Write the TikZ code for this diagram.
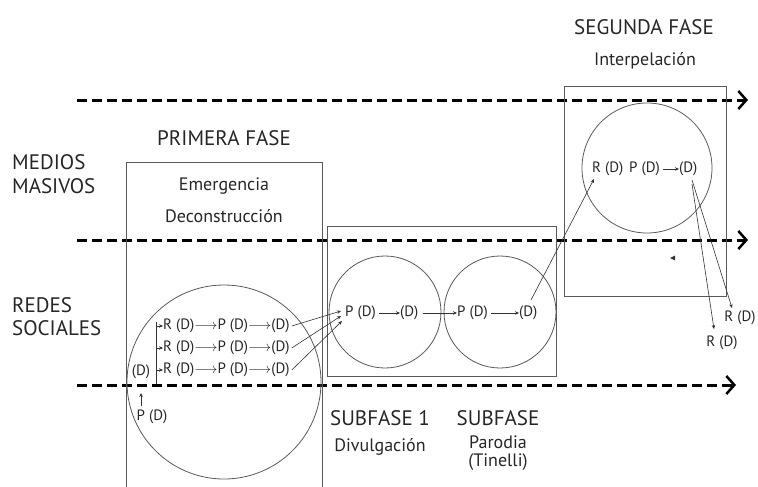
\documentclass[tikz,border=0pt]{standalone}
\usepackage{fontspec}
\setmainfont{PT Sans}
\usetikzlibrary{arrows.meta}
\begin{document}
\begin{tikzpicture}[x=1pt,y=-1pt,
  flow/.style={line width=3pt, dash pattern=on 10pt off 5pt,
    -{Straight Barb[length=8pt,width=18pt,line width=2.5pt]}},
  frame/.style={draw=black!65, line width=0.9pt},
  ring/.style={draw=black!65, line width=0.8pt},
  big/.style={font=\fontsize{21}{24}\selectfont, inner sep=0pt, text=black!85},
  mid/.style={font=\fontsize{18}{21}\selectfont, inner sep=0pt, text=black!85},
  sm/.style={font=\fontsize{15}{17}\selectfont, inner sep=0pt, text=black!85},
  conn/.style={line width=0.6pt, draw=black!80, -{Stealth[length=4pt,width=3.5pt]}}]
\useasboundingbox (0,0) rectangle (758,487);

% flow lines
\coordinate (f1s) at (77,100); \coordinate (f1e) at (748,100);
\coordinate (f2s) at (77,240); \coordinate (f2e) at (748,240);
\coordinate (f3s) at (77,385); \coordinate (f3e) at (736,385);
\draw[flow] (f1s) -- (f1e);
\draw[flow] (f2s) -- (f2e);
\draw[flow] (f3s) -- (f3e);

% frames
\draw[frame] (126,487) |- (322,162) -- (322,487);
\draw[frame] (327,226) rectangle (556,376);
\draw[frame] (564,86) rectangle (726,296);

% circles
\draw[ring] (224,382) circle (97);
\draw[ring] (385,312) circle (56);
\draw[ring] (500,312) circle (56);
\draw[ring] (647,168) circle (65);

% side labels
\node[big, anchor=west] (medios) at (12,162) {MEDIOS};
\node[big, anchor=west] (masivos) at (12,186) {MASIVOS};
\node[big, anchor=west] (redes) at (12,305) {REDES};
\node[big, anchor=west] (sociales) at (12,328) {SOCIALES};

% phase titles
\node[big] (primera) at (224,138) {PRIMERA FASE};
\node[mid] (emerg) at (224,186) {Emergencia};
\node[mid] (decon) at (224,216) {Deconstrucción};
\node[big] (segunda) at (644,27) {SEGUNDA FASE};
\node[mid] (interp) at (645,61) {Interpelación};
\node[big] (sub1) at (380,418) {SUBFASE 1};
\node[mid] (divul) at (380,447) {Divulgación};
\node[big] (sub2) at (498,418) {SUBFASE};
\node[mid] (parod) at (498,442) {Parodia};
\node[mid] (tinel) at (498,462) {(Tinelli)};

% first phase rows
\node[sm, anchor=west] (ra) at (163,326) {R (D)$\longrightarrow$P (D)$\longrightarrow$(D)};
\node[sm, anchor=west] (rb) at (163,348) {R (D)$\longrightarrow$P (D)$\longrightarrow$(D)};
\node[sm, anchor=west] (rc) at (163,370) {R (D)$\longrightarrow$P (D)$\longrightarrow$(D)};
\coordinate (vt) at (156,322);
\coordinate (vb) at (156,384);
\draw[line width=0.6pt, draw=black!80] (vt) -- (vb);
\draw[conn] (156,326) -- (ra.west);
\draw[conn] (156,348) -- (rb.west);
\draw[conn] (156,370) -- (rc.west);
\node[sm] (d0) at (141,372) {(D)};
\node[sm] (p0) at (152,417) {P (D)};
\draw[conn] (141,406) -- (141,393);

% subphase texts
\node[sm, anchor=west] (p1) at (345,313) {P (D)};
\node[sm, anchor=west] (d1) at (400,313) {(D)};
\node[sm, anchor=west] (p2) at (457,313) {P (D)};
\node[sm, anchor=west] (d2) at (519,313) {(D)};
\draw[conn] (p1.east) ++(3,0) -- (d1.west);
\draw[conn] (d1.east) ++(4,0) -- (p2.west);
\draw[conn] (p2.east) ++(3,0) -- (d2.west);

\draw[conn] (ra.east) ++(2,0) -- (341,311);
\draw[conn] (rb.east) ++(2,0) -- (341,316);
\draw[conn] (rc.east) ++(2,0) -- (342,321);

% second phase texts
\node[sm, anchor=west] (r4) at (592,169) {R (D)};
\node[sm, anchor=west] (p3) at (629,169) {P (D)};
\node[sm, anchor=west] (d3) at (679,169) {(D)};
\draw[conn] (p3.east) ++(3,0) -- (d3.west);
\draw[conn] (531,300) -- (594,179);

\node[sm] (r5) at (740,318) {R (D)};
\node[sm] (r6) at (722,343) {R (D)};
\draw[conn] (692,180) -- (732,308);
\draw[conn] (692,184) -- (714,329);

% small mark
\fill[black!80] (670,258) -- (675,255.5) -- (675,260.5) -- cycle;
\end{tikzpicture}
\end{document}
